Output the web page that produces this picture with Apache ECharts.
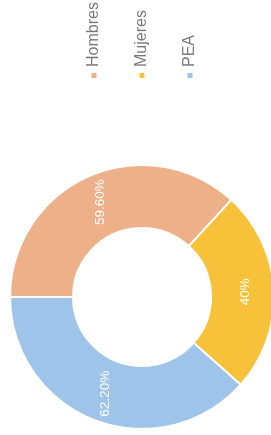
<!DOCTYPE html>
<html>
<head>
<meta charset="utf-8">
<script src="https://cdn.jsdelivr.net/npm/echarts@6/dist/echarts.min.js"></script>
<style>
	html, body { margin: 0; padding: 0; background: #fff; overflow: hidden; }
	/* the reference is the chart turned a quarter turn anticlockwise */
	#chart {
		position: absolute;
		left: 0;
		top: 0;
		width: 435px;
		height: 271px;
		transform-origin: 0 0;
		transform: translate(0, 435px) rotate(-90deg);
	}
</style>
</head>
<body>
<div id="chart"></div>
<script>
const categories = ['Hombres', 'Mujeres', 'PEA'];
const values = [59.6, 40, 62.2];
const valueLabels = ['59.60%', '40%', '62.20%'];
const colors = ['#EEB088', '#F7C23A', '#9FC4E9'];

const chart = echarts.init(document.getElementById('chart'), null, { renderer: 'canvas' });

let seriesData = categories.map((name, k) => ({
	name: name,
	value: values[k],
	itemStyle: { color: colors[k] },
}));

let option = {
	animation: false,
	backgroundColor: '#fff',
	legend: {
		orient: 'vertical',
		left: 350,
		top: 79,
		itemWidth: 7,
		itemHeight: 7,
		itemGap: 28,
		icon: 'rect',
		textStyle: {
			color: '#7a7a7a',
			fontSize: 16,
			lineHeight: 20,
			fontFamily: 'Liberation Sans',
		},
		data: categories,
	},
	series: [
		{
			type: 'pie',
			center: [138, 142],
			radius: [69, 132],
			startAngle: 90,
			clockwise: true,
			emphasis: { disabled: true },
			itemStyle: {
				borderColor: '#fff',
				borderWidth: 2,
			},
			label: {
				show: true,
				position: 'inside',
				color: '#fff',
				fontSize: 13.5,
				fontFamily: 'Liberation Sans',
				formatter: p => valueLabels[p.dataIndex],
			},
			labelLine: { show: false },
			data: seriesData,
		},
	],
};

chart.setOption(option);
</script>
</body>
</html>
